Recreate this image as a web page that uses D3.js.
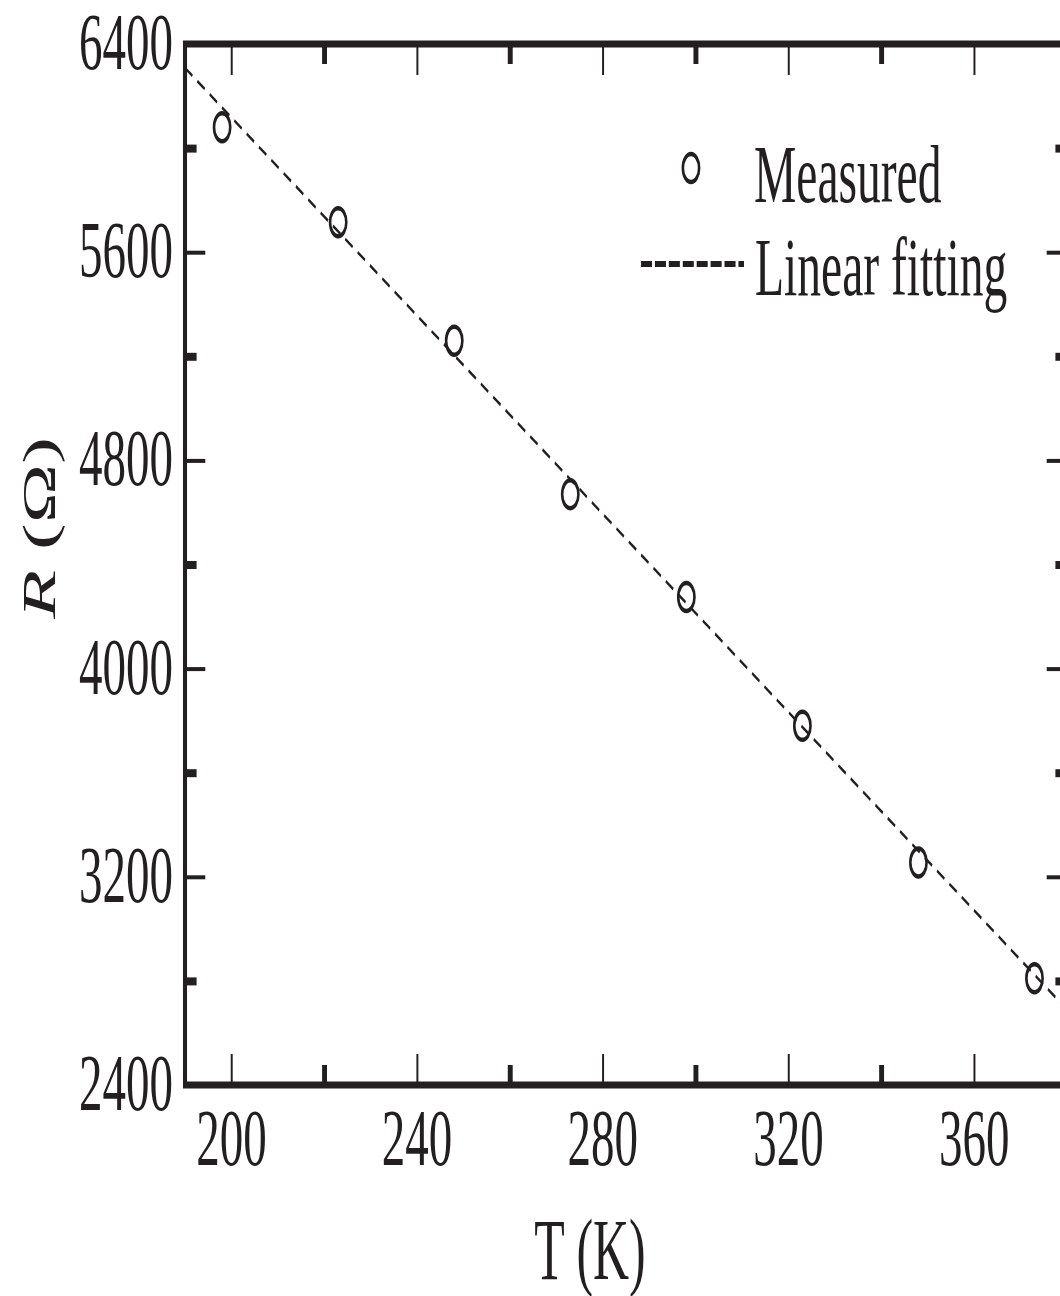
<!DOCTYPE html>
<html lang="en">
<head>
<meta charset="utf-8">
<title>R vs T</title>
<script src="https://d3js.org/d3.v7.min.js"></script>
<style>
  body { margin: 0; background: #fff; }
  text { font-family: "Liberation Serif", "DejaVu Serif", serif; fill: #231f20; }
</style>
</head>
<body>
<script>
// measured points
var temps = [198, 223, 248, 273, 298, 323, 348, 373];
var resist = [6080, 5715, 5260, 4670, 4275, 3780, 3255, 2810];
// linear fitting, end points
var fitT = [190, 380];
var fitR = [6308, 2690];
// ticks
var xMajor = [200, 240, 280, 320, 360];
var xMinor = [220, 260, 300, 340, 380];
var yMajor = [2400, 3200, 4000, 4800, 5600, 6400];
var yMinor = [2800, 3600, 4400, 5200, 6000];

var w = 1060, h = 1296;
var sx = 0.58; // the whole figure is squeezed sideways
var ink = "#231f20";

var svg = d3.select("body").append("svg").attr("width", w).attr("height", h);
var g = svg.append("g").attr("transform", "scale(" + sx + ",1)");

var x = d3.scaleLinear().domain([190, 380]).range([185 / sx, 1067 / sx]);
var y = d3.scaleLinear().domain([2400, 6400]).range([1085, 44]);

// inward ticks on all four sides
function ticks(axis, pos, vals, len, sw) {
  var a = g.append("g").attr("transform", pos)
    .call(axis.tickValues(vals).tickSize(-len).tickFormat(""));
  a.select(".domain").remove();
  a.selectAll(".tick line").attr("stroke", ink).attr("stroke-width", sw);
}
ticks(d3.axisBottom(x), "translate(0," + y(2400) + ")", xMajor, 31, 3.4);
ticks(d3.axisBottom(x), "translate(0," + y(2400) + ")", xMinor, 20, 8.5);
ticks(d3.axisTop(x), "translate(0," + y(6400) + ")", xMajor, 31, 3.4);
ticks(d3.axisTop(x), "translate(0," + y(6400) + ")", xMinor, 20, 8.5);
ticks(d3.axisLeft(y), "translate(" + x(190) + ",0)", yMajor, 35, 4);
ticks(d3.axisLeft(y), "translate(" + x(190) + ",0)", yMinor, 20, 8);
ticks(d3.axisRight(y), "translate(" + x(380) + ",0)", yMajor, 35, 4);
ticks(d3.axisRight(y), "translate(" + x(380) + ",0)", yMinor, 20, 8);

// frame
g.append("rect")
  .attr("x", x(190)).attr("y", y(6400))
  .attr("width", x(380) - x(190)).attr("height", y(2400) - y(6400))
  .attr("fill", "none").attr("stroke", ink).attr("stroke-width", 7);

// tick labels
g.selectAll(".xlab").data(xMajor).enter().append("text")
  .attr("class", "xlab")
  .attr("x", function(d) { return x(d); })
  .attr("y", y(2400) + 80)
  .attr("text-anchor", "middle")
  .style("font-size", "81px")
  .text(function(d) { return d; });

g.selectAll(".ylab").data(yMajor).enter().append("text")
  .attr("class", "ylab")
  .attr("x", 173 / sx)
  .attr("y", function(d) { return y(d) + 25; })
  .attr("text-anchor", "end")
  .style("font-size", "81px")
  .text(function(d) { return d; });

// fitted line
var fitLine = d3.line()
  .x(function(d) { return x(fitT[d]); })
  .y(function(d) { return y(fitR[d]); });
g.append("path")
  .datum(d3.range(fitT.length))
  .attr("d", fitLine)
  .attr("fill", "none").attr("stroke", ink)
  .attr("stroke-width", 3).attr("stroke-dasharray", "15,10");

// measured points
g.selectAll(".pt").data(temps).enter().append("circle")
  .attr("class", "pt")
  .attr("cx", function(d) { return x(d); })
  .attr("cy", function(d, i) { return y(resist[i]); })
  .attr("r", 14)
  .attr("fill", "none").attr("stroke", ink).attr("stroke-width", 4.5);

// legend
g.append("circle")
  .attr("cx", 691 / sx).attr("cy", 168).attr("r", 14)
  .attr("fill", "none").attr("stroke", ink).attr("stroke-width", 4.5);
g.append("text")
  .attr("x", 754 / sx).attr("y", 202)
  .style("font-size", "82px")
  .text("Measured");
g.append("line")
  .attr("x1", 641 / sx).attr("x2", 744 / sx)
  .attr("y1", 264).attr("y2", 264)
  .attr("stroke", ink).attr("stroke-width", 6)
  .attr("stroke-dasharray", "19,5");
g.append("text")
  .attr("x", 755 / sx).attr("y", 295)
  .style("font-size", "82px")
  .text("Linear fitting");

// axis titles
g.append("text")
  .attr("x", 590 / sx).attr("y", 1279)
  .attr("text-anchor", "middle")
  .style("font-size", "86px")
  .text("T (K)");

var yt = g.append("text")
  .attr("transform", "translate(" + (55 / sx) + ",528) rotate(-90)")
  .attr("text-anchor", "middle")
  .style("font-size", "80px");
yt.append("tspan").style("font-style", "italic").text("R");
yt.append("tspan").text(" (\u03A9)");
</script>
</body>
</html>
